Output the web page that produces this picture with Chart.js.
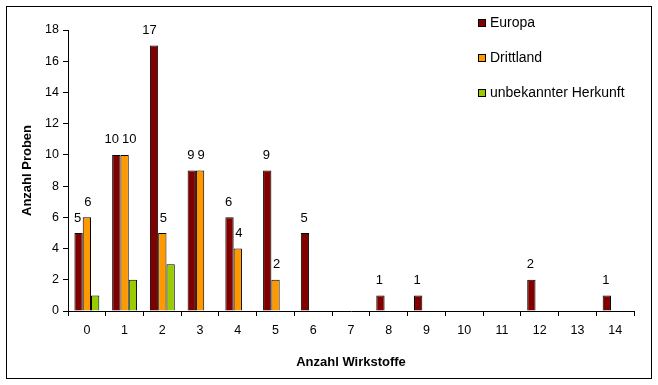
<!DOCTYPE html>
<html>
<head>
<meta charset="utf-8">
<script src="https://cdn.jsdelivr.net/npm/chart.js@4"></script>
<style>
  body { margin: 0; background: #fff; }
</style>
</head>
<body>
<canvas id="bar-chart" width="658" height="385"></canvas>
<script>
// Anzahl Wirkstoffe (categories)
const categories = ['0', '1', '2', '3', '4', '5', '6', '7', '8', '9', '10', '11', '12', '13', '14'];
const europa    = [5, 10, 17, 9, 6, 9, 5, 0, 1, 1, 0, 0, 2, 0, 1];
const drittland = [6, 10, 5, 9, 4, 2, 0, 0, 0, 0, 0, 0, 0, 0, 0];
const unbekannt = [1, 2, 3, 0, 0, 0, 0, 0, 0, 0, 0, 0, 0, 0, 0];
const seriesNames = ['Europa', 'Drittland', 'unbekannter Herkunft'];
const seriesColors = ['#800000', '#FF9900', '#99CC00'];
const labelledSeries = [0, 1]; // only these get value labels

const FONT = '"Liberation Sans", Arial, sans-serif';
Chart.defaults.font.family = FONT;
Chart.defaults.font.size = 12;
Chart.defaults.color = '#000';

const frame = {
  id: 'frame',
  beforeDraw(chart) {
    const ctx = chart.ctx;
    ctx.save();
    ctx.fillStyle = '#fff';
    ctx.fillRect(0, 0, chart.width, chart.height);
    ctx.strokeStyle = '#000';
    ctx.lineWidth = 1;
    ctx.strokeRect(6.5, 6.5, 645, 372);
    ctx.restore();
  }
};

const valueLabels = {
  id: 'valueLabels',
  afterDatasetsDraw(chart) {
    const ctx = chart.ctx;
    ctx.save();
    ctx.font = '13px ' + FONT;
    ctx.fillStyle = '#000';
    ctx.textAlign = 'center';
    ctx.textBaseline = 'middle';
    labelledSeries.forEach((i, k) => {
      const meta = chart.getDatasetMeta(i);
      meta.data.forEach((bar, j) => {
        const v = chart.data.datasets[i].data[j];
        if (!v) return;
        const txt = String(v);
        // push wide labels outward so neighbours don't collide
        const spill = Math.max(0, (ctx.measureText(txt).width - bar.width) / 2 + 1.5);
        const dx = k === 0 ? -spill : spill;
        ctx.fillText(txt, bar.x + dx, bar.y - 15);
      });
    });
    ctx.restore();
  }
};

const sideLegend = {
  id: 'sideLegend',
  afterDraw(chart) {
    const ctx = chart.ctx;
    ctx.save();
    ctx.font = '14px ' + FONT;
    ctx.textBaseline = 'middle';
    ctx.textAlign = 'left';
    chart.data.datasets.forEach((ds, i) => {
      const y = 23 + i * 35;
      ctx.fillStyle = ds.backgroundColor;
      ctx.fillRect(478.5, y - 3.5, 7, 7);
      ctx.strokeStyle = '#000';
      ctx.lineWidth = 1;
      ctx.strokeRect(478.5, y - 3.5, 7, 7);
      ctx.fillStyle = '#000';
      ctx.fillText(ds.label, 490, y);
    });
    ctx.restore();
  }
};

new Chart(document.getElementById('bar-chart'), {
  type: 'bar',
  data: {
    labels: categories,
    datasets: [europa, drittland, unbekannt].map((d, i) => ({
      label: seriesNames[i],
      data: d,
      backgroundColor: seriesColors[i],
      borderColor: '#000',
      borderWidth: 1,
      categoryPercentage: 0.66,
      barPercentage: 1.0
    }))
  },
  options: {
    responsive: false,
    animation: false,
    layout: { padding: { left: 0, right: 24, top: 30, bottom: 0 } },
    plugins: {
      legend: { display: false },
      tooltip: { enabled: false }
    },
    scales: {
      x: {
        grid: { drawOnChartArea: false, color: '#000', tickLength: 5, offset: true },
        border: { color: '#000' },
        ticks: { padding: 7, color: '#000', maxRotation: 0, autoSkip: false, font: { size: 12.5 } },
        title: {
          display: true,
          text: 'Anzahl Wirkstoffe',
          font: { weight: 'bold', size: 13 },
          padding: { top: 0, bottom: 15 }
        },
        afterFit(scale) { scale.height = 74; }
      },
      y: {
        min: 0,
        max: 18,
        ticks: { stepSize: 2, padding: 4, color: '#000', font: { size: 12.5 } },
        grid: { drawOnChartArea: false, color: '#000', tickLength: 5 },
        border: { color: '#000' },
        title: {
          display: true,
          text: 'Anzahl Proben',
          font: { weight: 'bold', size: 13 },
          padding: { top: 20, bottom: 0 }
        },
        afterFit(scale) { scale.width = 68; }
      }
    }
  },
  plugins: [frame, valueLabels, sideLegend]
});
</script>
</body>
</html>
